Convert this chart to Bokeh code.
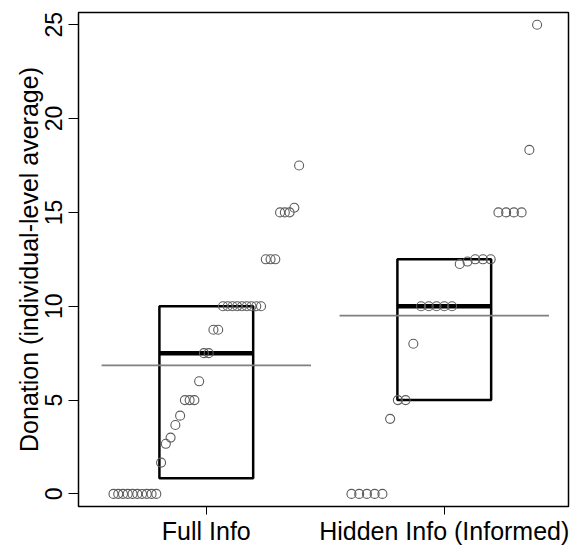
import numpy as np
from bokeh.plotting import figure
from bokeh.models import Range1d, FixedTicker, ColumnDataSource
from bokeh.embed import file_html
from bokeh.resources import INLINE

# ---- data ----
groups = ["Full Info", "Hidden Info (Informed)"]
full_info = [0, 0, 0, 0, 0, 0, 0, 0, 0, 0,
             1.67, 2.67, 3.0, 3.67, 4.17,
             5, 5, 5, 6, 7.5, 7.5, 8.75, 8.75,
             10, 10, 10, 10, 10, 10, 10, 10, 10,
             12.5, 12.5, 12.5, 15, 15, 15, 15.25, 17.5]
hidden_info = [0, 0, 0, 0, 0, 4, 5, 5, 8,
               10, 10, 10, 10, 10,
               12.25, 12.38, 12.5, 12.5, 12.5,
               15, 15, 15, 15, 18.33, 25]
y_ticks = [0, 5, 10, 15, 20, 25]
series = [full_info, hidden_info]

FONT = "Liberation Sans"


def fivenum(v):
    x = np.sort(np.asarray(v, dtype=float))
    n = len(x)
    n4 = np.floor((n + 3) / 2) / 2
    d = np.array([1, n4, (n + 1) / 2, n + 1 - n4, n])
    return 0.5 * (x[(np.floor(d) - 1).astype(int)] + x[(np.ceil(d) - 1).astype(int)])


p = figure(width=570, height=547, output_backend="svg", toolbar_location=None,
           x_range=Range1d(0.463, 2.522), y_range=Range1d(-0.67, 25.65),
           min_border_left=78, min_border_right=2, min_border_top=12,
           min_border_bottom=39)

p.xgrid.visible = False
p.ygrid.visible = False
p.outline_line_color = "black"
p.outline_line_width = 1.5
p.outline_line_alpha = 1.0
p.background_fill_color = "white"
p.border_fill_color = "white"

box_half = 0.197
mean_half = 0.44
jit = 0.39

for i, vals in enumerate(series):
    c = i + 1
    fn = fivenum(vals)
    q1, med, q3 = fn[1], fn[2], fn[3]
    mean = float(np.mean(vals))
    # box
    p.quad(left=[c - box_half], right=[c + box_half], bottom=[q1], top=[q3],
           fill_color=None, line_color="black", line_width=2.5)
    # median
    p.segment(x0=[c - box_half], x1=[c + box_half], y0=[med], y1=[med],
              line_color="black", line_width=4.5)
    # mean line
    p.segment(x0=[c - mean_half], x1=[c + mean_half], y0=[mean], y1=[mean],
              line_color="#808080", line_width=1.6)
    # points
    sv = np.sort(np.asarray(vals, dtype=float))
    xs = c + np.linspace(-jit, jit, len(sv))
    src = ColumnDataSource(dict(x=xs, y=sv))
    p.scatter("x", "y", source=src, marker="circle", size=9,
              fill_color=None, line_color="#5c5c5c", line_width=1.1)

# y axis
p.yaxis.ticker = FixedTicker(ticks=y_ticks)
p.yaxis.minor_tick_line_color = None
p.yaxis.axis_line_color = None
p.yaxis.major_tick_in = 0
p.yaxis.major_tick_out = 10
p.yaxis.major_tick_line_color = "black"
p.yaxis.major_tick_line_width = 1
p.yaxis.major_label_orientation = "vertical"
p.yaxis.major_label_standoff = 6
p.yaxis.major_label_text_font = FONT
p.yaxis.major_label_text_font_size = "23px"
p.yaxis.major_label_text_color = "black"
p.yaxis.axis_label = "Donation (individual-level average)"
p.yaxis.axis_label_text_font = FONT
p.yaxis.axis_label_text_font_size = "25px"
p.yaxis.axis_label_text_font_style = "normal"
p.yaxis.axis_label_text_color = "black"
p.yaxis.axis_label_standoff = 0

# x axis
p.xaxis.ticker = FixedTicker(ticks=[1, 2])
p.xaxis.major_label_overrides = {1: groups[0], 2: groups[1]}
p.xaxis.minor_tick_line_color = None
p.xaxis.axis_line_color = None
p.xaxis.major_tick_in = 0
p.xaxis.major_tick_out = 8
p.xaxis.major_tick_line_color = "black"
p.xaxis.major_label_standoff = 2
p.xaxis.major_label_text_font = FONT
p.xaxis.major_label_text_font_size = "25px"
p.xaxis.major_label_text_color = "black"

open("out.html", "w").write(file_html(p, INLINE))
